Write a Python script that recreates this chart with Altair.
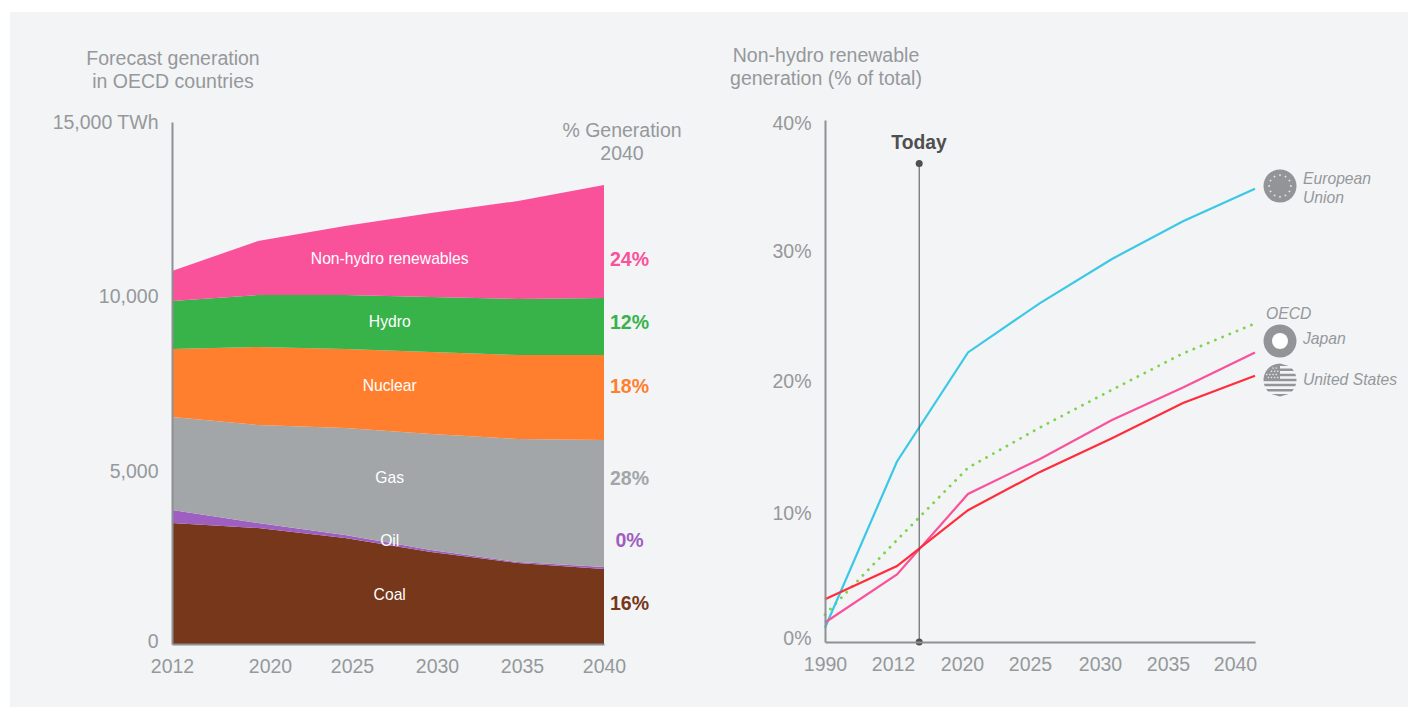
import math
import altair as alt
import pandas as pd

# ---------- data ----------
YEARS_L = [2012, 2020, 2025, 2030, 2035, 2040]
SOURCES = ["Coal", "Oil", "Gas", "Nuclear", "Hydro", "Non-hydro renewables"]
COAL = [3477, 3333, 3046, 2644, 2328, 2155]
OIL = [374, 144, 86, 57, 28, 58]
GAS = [2672, 2816, 3075, 3333, 3535, 3649]
NUCLEAR = [1954, 2241, 2270, 2357, 2414, 2443]
HYDRO = [1379, 1495, 1552, 1580, 1609, 1638]
RENEW = [862, 1551, 1982, 2414, 2816, 3247]
COLORS = ["#76371a", "#9e5fc0", "#a2a6a8", "#ff7f2e", "#37b34a", "#f9529a"]
SHARES = ["16%", "0%", "28%", "18%", "12%", "24%"]
BAND_LABEL_Y = [1437, 2989, 4799, 7443, 9282, 11092]
SHARE_LABEL_Y = [1178, 2989, 4770, 7414, 9253, 11063]

YEARS_R = [1990, 2012, 2020, 2025, 2030, 2035, 2040]
EU = [1.1, 13.9, 22.3, 26.1, 29.5, 32.4, 34.9]
OECD = [2.1, 7.85, 13.4, 16.5, 19.4, 22.2, 24.5]
JAPAN = [1.5, 5.2, 11.4, 14.1, 17.1, 19.6, 22.3]
USA = [3.3, 5.85, 10.15, 13.1, 15.7, 18.4, 20.5]
TODAY_YEAR = 2014.5
TODAY_TOP = 36.8

GREY = "#96989b"
AXIS_GREY = "#8e9094"
DARK = "#4f4f4f"
PANEL = "#f2f4f6"
FONT = "Liberation Sans"
LABEL_SIZE = 19.5

# ---------- scales: view coordinates are page coordinates minus (10, 12) ----------
OX, OY = 10, 12
def px(v): return [a - OX for a in v]
def py(v): return [a - OY for a in v]

xL = alt.Scale(type="linear", domain=YEARS_L, range=px([172, 258, 345, 431, 518, 604]))
xL_lab = alt.Scale(type="linear", domain=YEARS_L, range=px([172, 270, 352, 437, 522, 604]))
yL = alt.Scale(domain=[0, 15000], range=py([644, 122]))
yL_lab = alt.Scale(type="linear", domain=[0, 5000, 10000, 15000], range=py([641, 471, 296, 122]))

xR = alt.Scale(type="linear", domain=YEARS_R, range=px([825, 897, 968, 1040, 1112, 1183, 1255]))
xR_lab = alt.Scale(type="linear", domain=YEARS_R, range=px([825, 893, 962, 1030, 1100, 1168, 1235]))
yR = alt.Scale(domain=[0, 40], range=py([642, 122]))
yR_lab = alt.Scale(type="linear", domain=[0, 10, 20, 30, 40], range=py([638, 513, 381, 251, 123]))

HEIGHT = 695
WIDTH = 1398

def line_axis(orient, offset):
    return alt.Axis(orient=orient, offset=offset, labels=False, ticks=False, grid=False, title=None,
                    domain=True, domainColor=AXIS_GREY, domainWidth=2, zindex=1)

def x_label_axis(values, offset):
    return alt.Axis(orient="bottom", offset=offset, values=values, format="d", ticks=False, grid=False, title=None,
                    domain=False, labelPadding=13, labelColor=GREY, labelFontSize=LABEL_SIZE, labelFont=FONT,
                    labelOverlap=False, labelFlush=False)

def y_label_axis(values, offset, expr):
    return alt.Axis(orient="left", offset=offset, values=values, labelExpr=expr, ticks=False, grid=False, title=None,
                    domain=False, labelPadding=14, labelColor=GREY, labelFontSize=LABEL_SIZE, labelFont=FONT,
                    labelOverlap=False, labelFlush=False)

layers = []

# ---------- left: stacked areas ----------
rows = []
for rank, (s, vals) in enumerate(zip(SOURCES, [COAL, OIL, GAS, NUCLEAR, HYDRO, RENEW])):
    for yr, v in zip(YEARS_L, vals):
        rows.append({"year": yr, "source": s, "value": v, "rank": rank})
areas = pd.DataFrame(rows)
layers.append(
    alt.Chart(areas).mark_area(interpolate="linear", opacity=1).encode(
        x=alt.X("year:Q", scale=xL, axis=line_axis("bottom", -(HEIGHT - (644 - OY)))),
        y=alt.Y("value:Q", stack="zero", scale=yL, axis=line_axis("left", -(172 - OX))),
        color=alt.Color("source:N", scale=alt.Scale(domain=SOURCES, range=COLORS), legend=None),
        order=alt.Order("rank:Q"),
    )
)

# left tick labels
layers.append(
    alt.Chart(pd.DataFrame({"year": YEARS_L})).mark_point(opacity=0).encode(
        x=alt.X("year:Q", scale=xL_lab, axis=x_label_axis(YEARS_L, -(HEIGHT - (644 - OY)) + 0)),
        y=alt.value(0),
    )
)
layers.append(
    alt.Chart(pd.DataFrame({"v": [0, 5000, 10000, 15000]})).mark_point(opacity=0).encode(
        y=alt.Y("v:Q", scale=yL_lab,
                axis=y_label_axis([0, 5000, 10000, 15000], -(172 - OX),
                                  "datum.value == 15000 ? '15,000 TWh' : format(datum.value, ',')")),
        x=alt.value(0),
    )
)

# band names
band_x = 2027.6
layers.append(
    alt.Chart(pd.DataFrame({"name": SOURCES, "y": BAND_LABEL_Y, "x": [band_x] * 6})).mark_text(
        color="white", fontSize=15.7, font=FONT, baseline="middle", align="center", dy=1
    ).encode(
        x=alt.X("x:Q", scale=xL, axis=None),
        y=alt.Y("y:Q", scale=yL, axis=None),
        text="name:N",
    )
)
# 2040 shares
layers.append(
    alt.Chart(pd.DataFrame({"share": SHARES, "y": SHARE_LABEL_Y, "x": [2040] * 6, "source": SOURCES})).mark_text(
        fontSize=19.5, fontWeight="bold", font=FONT, baseline="middle", align="center", dx=25.5, dy=1
    ).encode(
        x=alt.X("x:Q", scale=xL, axis=None),
        y=alt.Y("y:Q", scale=yL, axis=None),
        text="share:N",
        color=alt.Color("source:N", scale=alt.Scale(domain=SOURCES, range=COLORS), legend=None),
    )
)

# ---------- right: lines ----------
rows = []
SERIES = ["European Union", "OECD", "Japan", "United States"]
SERIES_COLORS = ["#3bc8e7", "#7ed348", "#f9529a", "#ff2d3c"]
for s, vals in zip(SERIES, [EU, OECD, JAPAN, USA]):
    for yr, v in zip(YEARS_R, vals):
        rows.append({"year": yr, "series": s, "value": v})
lines = pd.DataFrame(rows)

solid = lines[lines.series != "OECD"]
dotted = lines[lines.series == "OECD"]

layers.append(
    alt.Chart(dotted).mark_line(color="#7ed348", strokeWidth=2.8, strokeDash=[0.1, 7.7], strokeCap="round").encode(
        x=alt.X("year:Q", scale=xR, axis=None),
        y=alt.Y("value:Q", scale=yR, axis=None),
    )
)
layers.append(
    alt.Chart(solid).mark_line(strokeWidth=2.2).encode(
        x=alt.X("year:Q", scale=xR, axis=line_axis("bottom", -(HEIGHT - (642 - OY)))),
        y=alt.Y("value:Q", scale=alt.Scale(domain=[0, 40.2], range=py([642, 120])), axis=line_axis("left", -(825 - OX))),
        color=alt.Color("series:N", scale=alt.Scale(domain=SERIES, range=SERIES_COLORS), legend=None),
        detail="series:N",
    )
)

# right tick labels
layers.append(
    alt.Chart(pd.DataFrame({"year": YEARS_R})).mark_point(opacity=0).encode(
        x=alt.X("year:Q", scale=xR_lab, axis=x_label_axis(YEARS_R, -(HEIGHT - (642 - OY)))),
        y=alt.value(0),
    )
)
layers.append(
    alt.Chart(pd.DataFrame({"v": [0, 10, 20, 30, 40]})).mark_point(opacity=0).encode(
        y=alt.Y("v:Q", scale=yR_lab, axis=y_label_axis([0, 10, 20, 30, 40], -(825 - OX), "datum.value + '%'")),
        x=alt.value(0),
    )
)

# Today marker
today = pd.DataFrame({"x": [TODAY_YEAR], "y": [0], "y2": [TODAY_TOP]})
layers.append(
    alt.Chart(today).mark_rule(color=DARK, strokeWidth=1).encode(
        x=alt.X("x:Q", scale=xR, axis=None),
        y=alt.Y("y:Q", scale=yR, axis=None),
        y2="y2:Q",
    )
)
today_pts = pd.DataFrame({"x": [TODAY_YEAR, TODAY_YEAR], "y": [0, TODAY_TOP]})
layers.append(
    alt.Chart(today_pts).mark_point(filled=True, color=DARK, size=49, opacity=1).encode(
        x=alt.X("x:Q", scale=xR, axis=None),
        y=alt.Y("y:Q", scale=yR, axis=None),
    )
)

# ---------- free text ----------
def text(label, x, y, size=19.5, color=GREY, align="center", style="normal", weight="normal"):
    return alt.Chart(pd.DataFrame({"t": [label]})).mark_text(
        fontSize=size, color=color, align=align, baseline="middle", font=FONT, fontStyle=style, fontWeight=weight
    ).encode(x=alt.value(x - OX), y=alt.value(y + 1 - OY), text="t:N")

ITALIC = 15.7
layers += [
    text("Forecast generation", 173, 58),
    text("in OECD countries", 173, 81),
    text("% Generation", 622, 130),
    text("2040", 622, 153),
    text("Non-hydro renewable", 826, 55),
    text("generation (% of total)", 826, 78),
    text("Today", 919, 142, size=19.3, color=DARK, weight="bold"),
    text("European", 1303, 178, size=ITALIC, align="left", style="italic"),
    text("Union", 1303, 197, size=ITALIC, align="left", style="italic"),
    text("OECD", 1266, 313, size=ITALIC, align="left", style="italic"),
    text("Japan", 1303, 338, size=ITALIC, align="left", style="italic"),
    text("United States", 1303, 379, size=ITALIC, align="left", style="italic"),
]

# ---------- icons ----------
def icon(shape, x, y, diameter, color):
    return alt.Chart(pd.DataFrame({"k": [0]})).mark_point(
        shape=shape, filled=True, color=color, size=diameter ** 2, opacity=1, strokeWidth=0
    ).encode(x=alt.value(x - OX), y=alt.value(y - OY))

def dots(points, r):
    out = []
    for cx, cy in points:
        out.append(f"M{cx - r:.3f},{cy:.3f}L{cx:.3f},{cy - r:.3f}L{cx + r:.3f},{cy:.3f}L{cx:.3f},{cy + r:.3f}Z")
    return "".join(out)

ICON_GREY = "#929497"
ICON_D = 33
# EU
ring = [(0.66 * math.cos(i * math.pi / 6), 0.66 * math.sin(i * math.pi / 6)) for i in range(12)]
layers.append(icon("circle", 1280, 186, ICON_D, ICON_GREY))
layers.append(icon(dots(ring, 0.07), 1280, 186, ICON_D, "#e6e7e9"))
# Japan
layers.append(icon("circle", 1280, 341, ICON_D, ICON_GREY))
layers.append(icon("circle", 1280, 341, 16, "#ffffff"))
# US
def stripe(y0, y1):
    def hw(y): return math.sqrt(max(0.0, 1 - y * y))
    return f"M{-hw(y0):.3f},{y0:.3f}L{hw(y0):.3f},{y0:.3f}L{hw(y1):.3f},{y1:.3f}L{-hw(y1):.3f},{y1:.3f}Z"

n = 13
h = 2 / n
path = "".join(stripe(-1 + i * h, -1 + (i + 1) * h) for i in range(0, n, 2))
canton = [(-math.sqrt(1 - 0.08 ** 2), 0.08)]
for i in range(0, 13):
    a = math.pi * (1.0 - 0.03) + (i / 12) * (math.pi * 0.53)
    canton.append((math.cos(a), math.sin(a)))
canton.append((0.0, 0.08))
path += "M" + "L".join(f"{a:.3f},{b:.3f}" for a, b in canton) + "Z"
layers.append(icon(path, 1280, 380, ICON_D, ICON_GREY))
stars = [(-0.8 + 0.19 * i + (0.095 if j % 2 else 0), -0.72 + 0.19 * j) for j in range(4) for i in range(4)
         if (-0.8 + 0.19 * i) ** 2 + (-0.72 + 0.19 * j) ** 2 < 0.8]
layers.append(icon(dots(stars, 0.06), 1280, 380, ICON_D, "#e6e7e9"))

chart = (
    alt.layer(*layers)
    .resolve_scale(x="independent", y="independent", color="independent")
    .properties(
        width=WIDTH,
        height=HEIGHT,
        padding={"left": 2, "top": 4, "right": 0, "bottom": 0},
        autosize=alt.AutoSizeParams(type="none"),
        background="white",
    )
    .configure_view(fill=PANEL, stroke=None)
)

chart.save("out.html", embed_options={"renderer": "svg", "actions": False})
